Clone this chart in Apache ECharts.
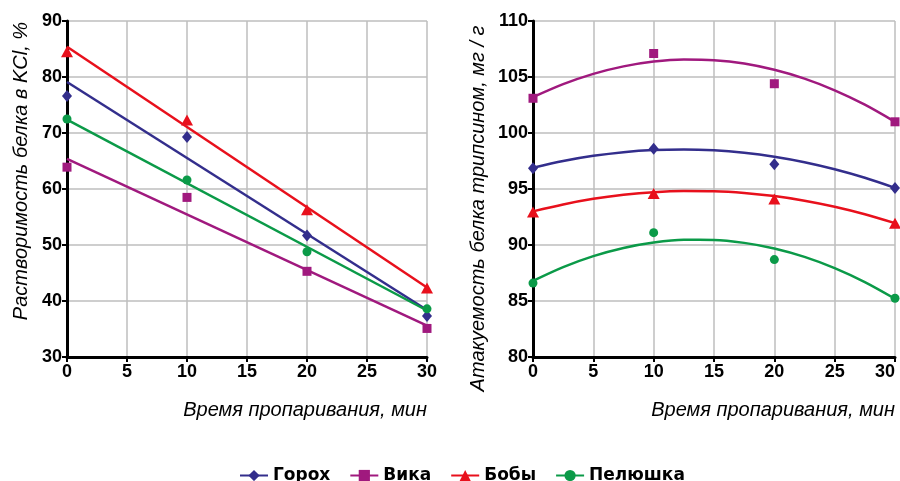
<!DOCTYPE html>
<html>
<head>
<meta charset="utf-8">
<script src="https://cdn.jsdelivr.net/npm/echarts@6/dist/echarts.min.js"></script>
<style>html,body{margin:0;padding:0;background:#fff}#c{width:900px;height:481px}</style>
</head>
<body>
<div id="c"></div>
<script>
// ---- data ----
const minutes = [0, 10, 20, 30];
const seriesNames = ['Горох', 'Вика', 'Бобы', 'Пелюшка'];
// Left chart: solubility of protein in KCl, %
const solGoroh = [76.6, 69.3, 51.7, 37.3];
const solVika = [63.9, 58.5, 45.3, 35.1];
const solBoby = [84.5, 72.3, 56.3, 42.3];
const solPelyushka = [72.5, 61.6, 48.8, 38.6];
// Left chart linear trendlines (values read at x = 0 and x = 30)
const trendX = [0, 30];
const solTrendGoroh = [79.1, 38.4];
const solTrendVika = [65.4, 35.6];
const solTrendBoby = [85.4, 42.4];
const solTrendPelyushka = [72.4, 38.3];
// Right chart: trypsin attackability, mg/g
const attGoroh = [96.85, 98.6, 97.2, 95.1];
const attVika = [103.1, 107.1, 104.4, 101.0];
const attBoby = [92.95, 94.6, 94.1, 91.95];
const attPelyushka = [86.6, 91.1, 88.7, 85.25];
// Right chart polynomial trendlines, read at x = 0, 2.5, ..., 30
const curveX = [0, 2.5, 5, 7.5, 10, 12.5, 15, 17.5, 20, 22.5, 25, 27.5, 30];
const attTrendGoroh = [96.90, 97.50, 97.96, 98.29, 98.48, 98.53, 98.45, 98.23, 97.88, 97.39, 96.76, 96.00, 95.10];
const attTrendVika = [103.20, 104.36, 105.28, 105.95, 106.38, 106.56, 106.50, 106.20, 105.64, 104.85, 103.81, 102.53, 101.00];
const attTrendBoby = [93.00, 93.62, 94.12, 94.48, 94.72, 94.82, 94.80, 94.65, 94.37, 93.96, 93.42, 92.75, 91.95];
const attTrendPelyushka = [86.80, 88.03, 89.01, 89.74, 90.22, 90.46, 90.45, 90.19, 89.69, 88.94, 87.94, 86.69, 85.20];
// tick settings
const xTicks = {min: 0, max: 30, interval: 5};
const yLeftTicks = {min: 30, max: 90, interval: 10};
const yRightTicks = {min: 80, max: 110, interval: 5};

const colors = ['#332E8C', '#A0197E', '#E8101C', '#0B9A48'];
const symbols = ['diamond', 'rect', 'triangle', 'circle'];
const symbolSizes = [[10, 12], 9, [12, 11], 9];

const pair = (xs, ys) => xs.map((x, i) => [x, ys[i]]);

const leftPts = [solGoroh, solVika, solBoby, solPelyushka];
const leftTr = [solTrendGoroh, solTrendVika, solTrendBoby, solTrendPelyushka];
const rightPts = [attGoroh, attVika, attBoby, attPelyushka];
const rightTr = [attTrendGoroh, attTrendVika, attTrendBoby, attTrendPelyushka];

const tickFont = {color: '#000', fontFamily: 'Liberation Sans', fontWeight: 'bold', fontSize: 18};
const nameFont = {color: '#000', fontFamily: 'Liberation Sans', fontStyle: 'italic', fontSize: 20};

function xAxis(gi, alignMax) {
  return {
    type: 'value', gridIndex: gi, min: xTicks.min, max: xTicks.max, interval: xTicks.interval,
    name: 'Время пропаривания, мин', nameLocation: 'end', nameGap: 0,
    nameTextStyle: Object.assign({}, nameFont, {align: 'right', verticalAlign: 'top', padding: [43, 0, 0, 0]}),
    axisLine: {show: true, onZero: false, lineStyle: {color: '#000', width: 3}},
    axisTick: {show: true, length: 5, lineStyle: {color: '#000', width: 2}},
    axisLabel: Object.assign({}, tickFont, {margin: 6, alignMaxLabel: alignMax}),
    splitLine: {show: true, lineStyle: {color: '#BEBEBE', width: 1.5}}
  };
}
function yAxis(gi, t, name, gap, pad) {
  return {
    type: 'value', gridIndex: gi, min: t.min, max: t.max, interval: t.interval,
    name: name, nameLocation: 'middle', nameGap: gap,
    nameTextStyle: Object.assign({}, nameFont, {padding: pad}),
    axisLine: {show: true, lineStyle: {color: '#000', width: 3}},
    axisTick: {show: true, length: 5, lineStyle: {color: '#000', width: 2}},
    axisLabel: Object.assign({}, tickFont, {margin: 5}),
    splitLine: {show: true, lineStyle: {color: '#BEBEBE', width: 1.5}}
  };
}

const series = [];
// trend lines first (they provide legend icons)
seriesNames.forEach((n, i) => {
  series.push({
    name: n, type: 'line', xAxisIndex: 0, yAxisIndex: 0, data: pair(trendX, leftTr[i]),
    symbol: symbols[i], showSymbol: false, lineStyle: {color: colors[i], width: 2.5},
    itemStyle: {color: colors[i]}, z: 2, silent: true
  });
});
seriesNames.forEach((n, i) => {
  series.push({
    name: n, type: 'line', xAxisIndex: 1, yAxisIndex: 1, data: pair(curveX, rightTr[i]),
    smooth: 0.3, symbol: symbols[i], showSymbol: false, lineStyle: {color: colors[i], width: 2.5},
    itemStyle: {color: colors[i]}, z: 2, silent: true
  });
});
seriesNames.forEach((n, i) => {
  series.push({
    name: n, type: 'scatter', xAxisIndex: 0, yAxisIndex: 0, data: pair(minutes, leftPts[i]),
    symbol: symbols[i], symbolSize: symbolSizes[i], itemStyle: {color: colors[i], opacity: 1}, z: 3
  });
  series.push({
    name: n, type: 'scatter', xAxisIndex: 1, yAxisIndex: 1, data: pair(minutes, rightPts[i]),
    symbol: symbols[i], symbolSize: symbolSizes[i], itemStyle: {color: colors[i], opacity: 1}, z: 3
  });
});

const chart = echarts.init(document.getElementById('c'), null, {renderer: 'canvas'});
chart.setOption({
  animation: false,
  backgroundColor: '#fff',
  grid: [
    {left: 67, right: 473, top: 21, bottom: 124, containLabel: false, outerBoundsMode: 'none'},
    {left: 533, right: 5, top: 21, bottom: 124, containLabel: false, outerBoundsMode: 'none'}
  ],
  xAxis: [xAxis(0, 'center'), xAxis(1, 'right')],
  yAxis: [
    yAxis(0, yLeftTicks, 'Растворимость белка в KCl, %', 36, [0, 0, 0, 36]),
    yAxis(1, yRightTicks, 'Атакуемость белка трипсином, мг / г', 45, [0, 39, 0, 0])
  ],
  legend: {
    data: seriesNames, left: 234, top: 462, itemWidth: 28, itemHeight: 14, itemGap: 19,
    textStyle: {color: '#000', fontFamily: 'DejaVu Sans', fontWeight: 'bold', fontSize: 17}
  },
  series: series
});
</script>
</body>
</html>
